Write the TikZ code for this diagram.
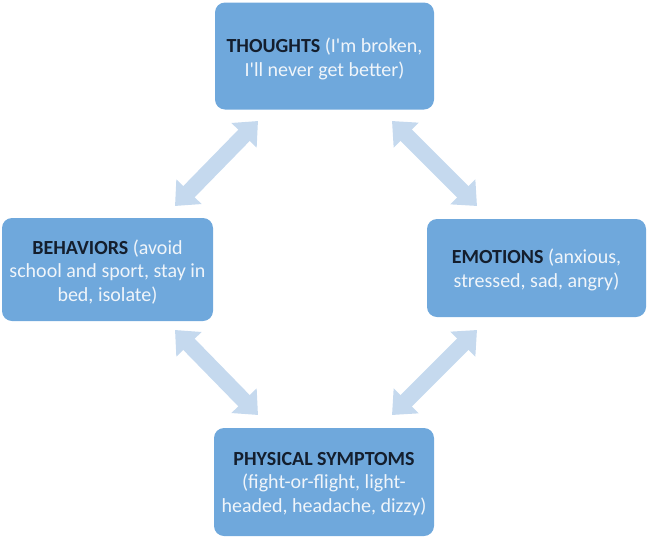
\documentclass[tikz,border=0pt]{standalone}
\usepackage{fontspec}
\setmainfont{Carlito}
\usetikzlibrary{arrows.meta,calc}
\definecolor{boxblue}{RGB}{111,168,220}
\definecolor{arrblue}{RGB}{197,217,238}
\definecolor{headtxt}{RGB}{20,30,45}
\definecolor{bodytxt}{RGB}{240,245,250}
\tikzset{
  cbox/.style={draw=none, fill=boxblue, rounded corners=10pt, align=center,
    font=\fontsize{20}{23.5}\selectfont, text=bodytxt, inner sep=0pt},
  barrow/.style={draw=arrblue, line width=16pt,
    {Triangle[length=20pt,width=34pt]}-{Triangle[length=20pt,width=34pt]}},
}
\newcommand{\hd}[1]{\textcolor{headtxt}{\textbf{#1}}}
\newcommand{\ap}{\textquotesingle}
\begin{document}
\begin{tikzpicture}[x=1pt,y=-1pt]
\useasboundingbox (0,0) rectangle (649,539);
\node[cbox, minimum width=219pt, minimum height=107pt] (th) at (324.5,56) {};
\node[align=center, font=\fontsize{20}{23.5}\selectfont, text=bodytxt, inner sep=0pt] (tht) at (324.5,59) {\hd{THOUGHTS} (I\ap m broken,\\I\ap ll never get better)};
\node[cbox, minimum width=211pt, minimum height=103pt] (be) at (107.5,269.5) {};
\node[align=center, font=\fontsize{20}{23.5}\selectfont, text=bodytxt, inner sep=0pt] (bet) at (107.5,272) {\hd{BEHAVIORS} (avoid\\school and sport, stay in\\bed, isolate)};
\node[cbox, minimum width=219pt, minimum height=98pt] (em) at (536.5,268) {};
\node[align=center, font=\fontsize{20}{23.5}\selectfont, text=bodytxt, inner sep=0pt] (emt) at (536.5,270) {\hd{EMOTIONS} (anxious,\\stressed, sad, angry)};
\node[cbox, minimum width=220pt, minimum height=108pt] (ph) at (324,482) {};
\node[align=center, font=\fontsize{20}{23.5}\selectfont, text=bodytxt, inner sep=0pt] (pht) at (324,484) {\hd{PHYSICAL SYMPTOMS}\\(fight-or-flight, light-\\headed, headache, dizzy)};
\coordinate (a1) at (258,121);
\coordinate (a2) at (175,206);
\coordinate (b1) at (392,121);
\coordinate (b2) at (477,206);
\coordinate (c1) at (175,330);
\coordinate (c2) at (258,415);
\coordinate (d1) at (477,330);
\coordinate (d2) at (392,415);
\draw[barrow] (a1) -- (a2);
\draw[barrow] (b1) -- (b2);
\draw[barrow] (c1) -- (c2);
\draw[barrow] (d1) -- (d2);
\end{tikzpicture}
\end{document}
